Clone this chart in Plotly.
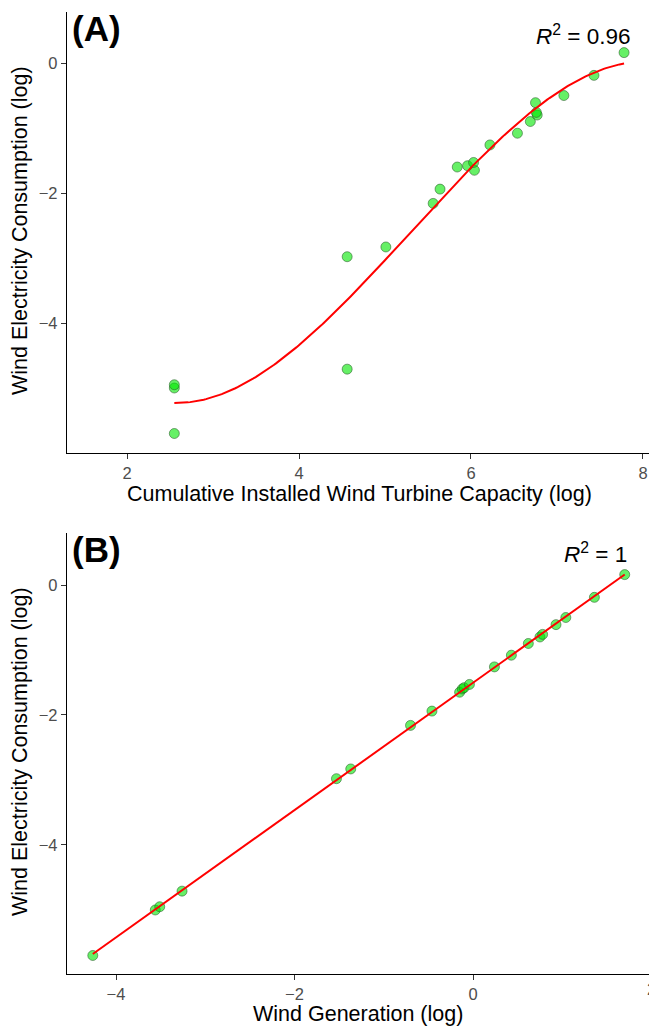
import numpy as np
import plotly.graph_objects as go

# Shared response: wind electricity consumption (log)
consumption = [-5.70, -5.00, -4.95, -4.71, -2.98, -2.83, -2.16, -1.94, -1.65, -1.60, -1.58,
               -1.53, -1.26, -1.08, -0.90, -0.80, -0.76, -0.61, -0.50, -0.19, 0.16]
# Panel A predictor: cumulative installed wind turbine capacity (log)
capacity = [2.55, 2.55, 2.55, 4.56, 4.56, 5.01, 5.56, 5.64, 6.04, 5.84, 5.96,
            6.03, 6.22, 6.54, 6.69, 6.77, 6.76, 6.75, 7.08, 7.43, 7.78]
# Panel B predictor: wind generation (log)
generation = [-4.26, -3.56, -3.51, -3.26, -1.53, -1.37, -0.70, -0.46, -0.15, -0.12, -0.10,
              -0.04, 0.24, 0.43, 0.62, 0.75, 0.78, 0.93, 1.04, 1.36, 1.70]

r2_a = "0.96"
r2_b = "1"
xticks_a = [2, 4, 6, 8]
xticks_b = [-4, -2, 0]
yticks = [-4, -2, 0]

FONT = "Liberation Sans, Arial, Helvetica, sans-serif"
W, H = 649, 1029
ML = 67
PW = W - ML

# fits
ca = np.polyfit(capacity, consumption, 3)
xa = np.linspace(min(capacity), max(capacity), 200)
ya = np.polyval(ca, xa)
cb = np.polyfit(generation, consumption, 1)
xb = np.linspace(min(generation), max(generation), 50)
yb = np.polyval(cb, xb)

fig = go.Figure()
marker = dict(size=10, color="rgba(0,230,0,0.6)",
              line=dict(color="rgba(40,90,40,0.55)", width=1))
fig.add_trace(go.Scatter(x=capacity, y=consumption, mode="markers", marker=marker,
                         xaxis="x", yaxis="y", showlegend=False))
fig.add_trace(go.Scatter(x=xa, y=ya, mode="lines", line=dict(color="#ff0000", width=2),
                         xaxis="x", yaxis="y", showlegend=False))
fig.add_trace(go.Scatter(x=generation, y=consumption, mode="markers", marker=marker,
                         xaxis="x2", yaxis="y2", showlegend=False))
fig.add_trace(go.Scatter(x=xb, y=yb, mode="lines", line=dict(color="#ff0000", width=2),
                         xaxis="x2", yaxis="y2", showlegend=False))

def ydom(top_px, bot_px):
    return [(H - bot_px) / H, (H - top_px) / H]

def px(xp):
    return (xp - ML) / PW

def py(yp):
    return (H - yp) / H

axis_common = dict(showgrid=False, zeroline=False, showline=True, linecolor="black",
                   linewidth=1.3, ticks="outside", ticklen=5, tickcolor="#333333",
                   tickwidth=1.1, tickfont=dict(family=FONT, size=16.5, color="#4d4d4d"),
                   mirror=False)

fig.update_layout(
    width=W, height=H, margin=dict(l=ML, r=0, t=0, b=0),
    plot_bgcolor="white", paper_bgcolor="white",
    xaxis=dict(domain=[0, 1], range=[1.302, 8.07], tickvals=xticks_a, anchor="y", **axis_common),
    yaxis=dict(domain=ydom(12, 453), range=[-6.0, 0.785], tickvals=yticks, anchor="x", **axis_common),
    xaxis2=dict(domain=[0, 1], range=[-4.549, 1.972], tickvals=xticks_b, anchor="y2", **axis_common),
    yaxis2=dict(domain=ydom(533, 974), range=[-5.985, 0.8], tickvals=yticks, anchor="x2", **axis_common),
)

ann = []
def A(text, x, y, size, xanchor="center", angle=0, color="black"):
    ann.append(dict(text=text, xref="paper", yref="paper", x=x, y=y, xanchor=xanchor,
                    yanchor="middle", textangle=angle, showarrow=False,
                    font=dict(family=FONT, size=size, color=color)))

# axis titles
A("Cumulative Installed Wind Turbine Capacity (log)", px(359), py(494), 21.5)
A("Wind Generation (log)", px(358), py(1014), 21.5)
A("Wind Electricity Consumption (log)", px(20), py(231), 21.5, angle=-90)
A("Wind Electricity Consumption (log)", px(20), py(752), 21.5, angle=-90)
# panel labels
A("<b>(A)</b>", px(70), py(28), 35, xanchor="left")
A("<b>(B)</b>", px(70), py(549), 35, xanchor="left")
# R^2 labels
A("<i>R</i><sup>2</sup> = " + r2_a, px(632), py(35), 22.5, xanchor="right")
A("<i>R</i><sup>2</sup> = " + r2_b, px(629), py(553), 22.5, xanchor="right")
# partially visible tick label "2" at the right edge of panel B
A("2", px(651.5), py(989), 16.5, color="#4d4d4d")

fig.update_layout(annotations=ann)
fig.write_html("out.html")
